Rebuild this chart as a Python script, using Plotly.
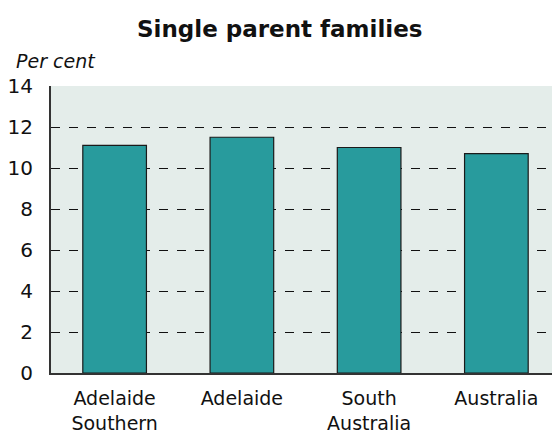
import plotly.graph_objects as go

regions = ["Adelaide<br>Southern", "Adelaide", "South<br>Australia", "Australia"]
single_parent = [11.1, 11.5, 11.0, 10.7]
y_ticks = [0, 2, 4, 6, 8, 10, 12, 14]

fig = go.Figure(
    go.Bar(
        x=list(range(len(regions))),
        y=single_parent,
        width=0.5,
        marker=dict(color="#289b9d", line=dict(color="#1a1a1a", width=1.2)),
    )
)

# page body adds an 8px margin; figure is sized so the plot box lands at 48..560 x 86..373
fig.update_layout(
    width=552,
    height=426,
    margin=dict(l=40, r=0, t=78, b=61),
    paper_bgcolor="white",
    plot_bgcolor="#e4edea",
    font=dict(family="DejaVu Sans, sans-serif", size=19, color="#111"),
    showlegend=False,
    xaxis=dict(
        tickvals=list(range(len(regions))),
        ticktext=regions,
        range=[-0.5, 3.5],
        showgrid=False,
        showline=True,
        linecolor="#333",
        linewidth=2,
        ticks="",
        ticklabelstandoff=7,
        tickfont=dict(size=19),
        fixedrange=True,
    ),
    yaxis=dict(
        range=[0, 14],
        tickvals=y_ticks,
        showgrid=True,
        gridcolor="#111",
        griddash="dash",
        gridwidth=1,
        showline=True,
        linecolor="#333",
        linewidth=2,
        ticks="",
        ticklabelstandoff=12,
        zeroline=False,
        tickfont=dict(size=20),
    ),
    annotations=[
        dict(
            text="<b>Single parent families</b>",
            x=(278 - 48) / 512, y=1 + (86 - 29) / 287,
            xref="paper", yref="paper", yanchor="middle",
            showarrow=False, font=dict(size=23),
        ),
        dict(
            text="<i>Per cent</i>",
            x=(11 - 48) / 512, y=1 + (86 - 61) / 287,
            xref="paper", yref="paper",
            xanchor="left", yanchor="middle",
            showarrow=False, font=dict(size=19),
        ),
    ],
)

fig.write_html("out.html")
